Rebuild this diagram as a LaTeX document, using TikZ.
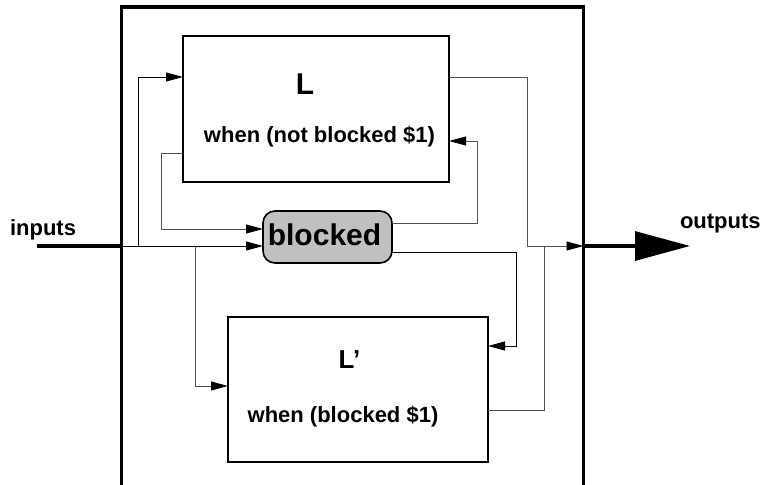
\documentclass[tikz,border=0pt]{standalone}
\usepackage{fontspec}
\setmainfont{Liberation Sans}
\usetikzlibrary{arrows.meta}
\definecolor{conncol}{HTML}{505050}
\definecolor{blockfill}{HTML}{C0C0C0}
\begin{document}
\begin{tikzpicture}[x=1pt,y=-1pt,
  every node/.style={inner sep=0pt, outer sep=0pt},
  box/.style={draw=black, line width=1.6pt, fill=white},
  conn/.style={draw=conncol, line width=0.9pt},
  tip/.style={-{Triangle[length=17pt,width=9pt,black]}},
  lbl/.style={font=\bfseries\fontsize{22}{26}\selectfont, anchor=base},
  big/.style={font=\bfseries\fontsize{30}{34}\selectfont, anchor=base}]
\useasboundingbox (0,0) rectangle (762,484);
\fill[white] (0,0) rectangle (762,484);
% outer system box
\node[draw=black, line width=3.5pt, minimum width=462pt, minimum height=481pt] (sys) at (352.5,247.5) {};
% inner boxes
\node[box, minimum width=266pt, minimum height=146pt] (L) at (316,109) {};
\node[box, minimum width=260pt, minimum height=145pt] (Lp) at (358,389.5) {};
\node[draw=black, line width=1.6pt, fill=blockfill, rounded corners=12pt, minimum width=129pt, minimum height=52pt] (B) at (327.5,237) {};
% texts
\node[big] (Lt) at (305,95) {L};
\node[lbl] (Lw) at (319.5,142) {when (not blocked \$1)};
\node[big, font=\bfseries\fontsize{26}{30}\selectfont] (Lpt) at (349.5,368) {L’};
\node[lbl] (Lpw) at (343,422) {when (blocked \$1)};
\node[big] (Bt) at (324.5,245) {blocked};
\node[lbl, anchor=base west] (inT) at (10,235) {inputs};
\node[lbl, anchor=base west] (outT) at (680,228) {outputs};
% coordinates
\coordinate (inS) at (37,246);
\coordinate (j1) at (138,246);
\coordinate (j3) at (195,246);
\coordinate (j4) at (161,153);
\coordinate (j5) at (477,223);
\coordinate (j6) at (527,246);
\coordinate (j7) at (516,346);
\coordinate (j8) at (544,246);
\coordinate (outE) at (690,246);
% input / output
\draw[line width=3.2pt] (inS) -- (sys.west|-inS);
\draw[line width=3.2pt, -{Triangle[length=55pt,width=29pt]}] (sys.east|-inS) -- (outE);
% connectors
\draw[conn, draw=black, tip] (sys.west|-inS) -- (B.west|-inS);
\draw[conn, draw=black, tip] (j1) |- (L.west|-0,77);
\draw[conn, tip] (j3) |- (Lp.west|-0,386);
\draw[conn, tip] (L.west|-j4) -- (j4) |- (B.west|-0,229);
\draw[conn, tip] (B.east|-j5) -- (j5) |- (L.east|-0,141);
\draw[conn, tip] (L.east|-0,77) -| (j6) -- (sys.east|-j6);
\draw[conn, draw=black, tip] (B.east|-0,252) -| (j7) -- (Lp.east|-j7);
\draw[conn] (Lp.east|-0,410) -| (j8);
\end{tikzpicture}
\end{document}
